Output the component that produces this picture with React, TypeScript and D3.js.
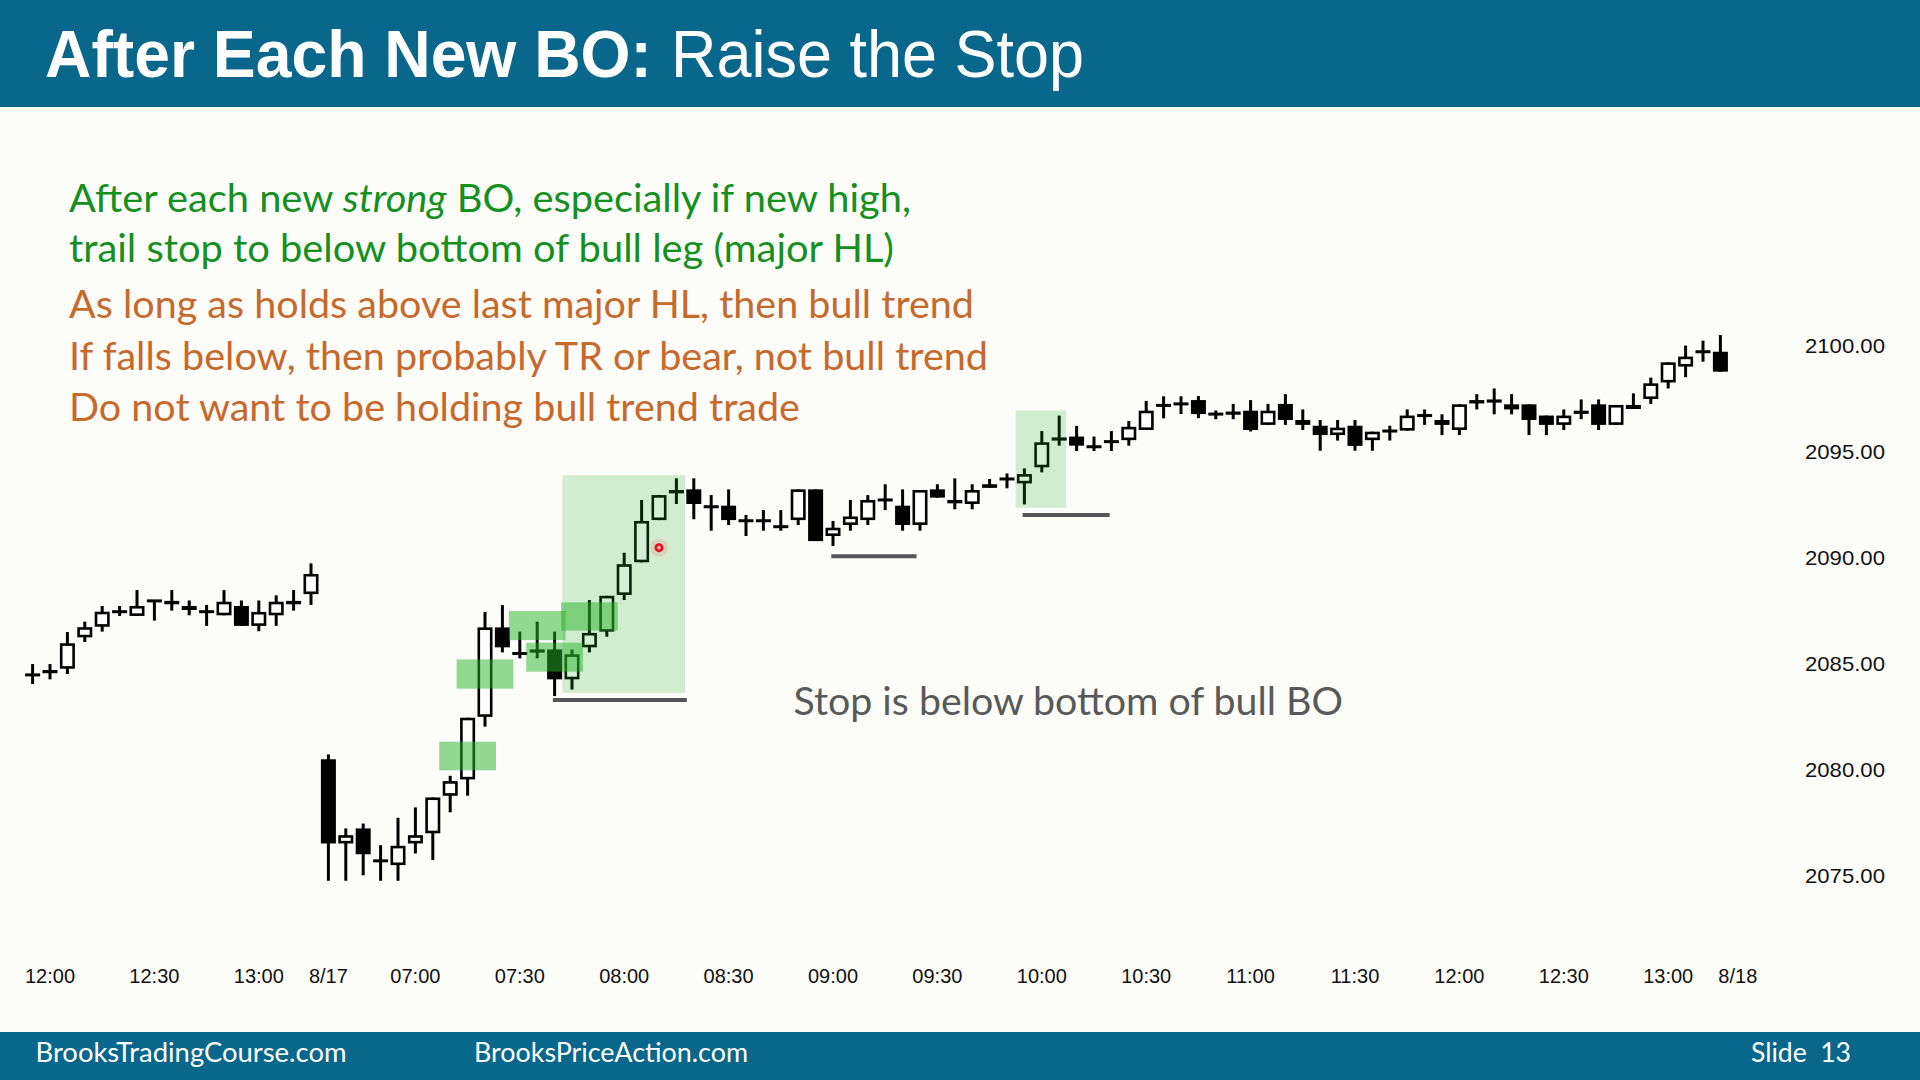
import React from 'react';
import * as d3 from 'd3';

// ---- OHLC of 5-minute bars (index 0 = 11:55 of prior day, index 17 = 06:35 of 8/17) ----
const open = [
  2084.48, 2084.56, 2084.77, 2086.25, 2086.75, 2087.46, 2087.26, 2087.97, 2087.97, 2087.73,
  2087.46, 2087.29, 2087.73, 2086.79, 2087.29, 2087.81, 2088.29,
  2080.50, 2076.53, 2077.24, 2075.71, 2075.51, 2076.53, 2077.01, 2078.78, 2079.55,
  2082.50, 2086.72, 2085.49, 2085.53, 2085.68, 2084.27, 2085.78, 2086.52, 2088.25, 2089.79,
  2091.78, 2093.04, 2093.23, 2092.41, 2092.46, 2091.75, 2091.75, 2091.47, 2091.78, 2093.23,
  2091.03, 2091.55, 2091.78, 2092.73, 2092.46, 2091.55, 2093.23, 2092.73, 2092.54, 2093.30,
  2093.72, 2093.51, 2094.27, 2095.53, 2095.72, 2095.24, 2095.48, 2095.55, 2096.03, 2097.26,
  2097.26, 2097.44, 2096.78, 2096.78, 2096.94, 2096.27, 2097.26, 2096.50, 2096.23, 2095.79,
  2096.23, 2095.55, 2095.98, 2096.00, 2096.71, 2096.50, 2096.03, 2097.28, 2097.47, 2097.24,
  2097.24, 2096.71, 2096.27, 2096.81, 2097.24, 2096.27, 2097.02, 2097.49, 2098.27, 2099.02,
  2099.72, 2099.72,
];
const high = [
  2084.99, 2084.99, 2086.50, 2086.99, 2087.73, 2087.73, 2088.48, 2087.97, 2088.48, 2087.99,
  2087.78, 2088.48, 2087.99, 2087.99, 2088.23, 2088.48, 2089.74,
  2080.73, 2077.24, 2077.47, 2076.45, 2077.74, 2078.23, 2078.70, 2079.72, 2082.46,
  2087.45, 2087.77, 2086.52, 2086.99, 2086.52, 2085.68, 2088.01, 2088.21, 2090.24, 2092.73,
  2092.96, 2093.75, 2093.75, 2092.96, 2093.23, 2092.02, 2092.25, 2092.25, 2093.23, 2093.23,
  2091.74, 2092.73, 2092.96, 2093.47, 2093.23, 2093.20, 2093.47, 2093.75, 2093.47, 2093.72,
  2093.98, 2094.22, 2095.98, 2096.71, 2096.22, 2095.72, 2095.98, 2096.45, 2097.40, 2097.62,
  2097.62, 2097.63, 2096.95, 2097.26, 2097.44, 2097.26, 2097.72, 2097.00, 2096.50, 2096.50,
  2096.50, 2095.95, 2096.23, 2097.00, 2097.00, 2096.77, 2097.24, 2097.72, 2097.99, 2097.72,
  2097.24, 2096.71, 2097.00, 2097.47, 2097.47, 2097.21, 2097.76, 2098.50, 2099.22, 2100.01,
  2100.24, 2100.51,
];
const low = [
  2084.05, 2084.27, 2084.52, 2086.03, 2086.52, 2087.26, 2087.26, 2087.04, 2087.51, 2087.29,
  2086.79, 2087.29, 2086.79, 2086.54, 2086.79, 2087.51, 2087.78,
  2074.77, 2074.77, 2075.03, 2074.77, 2074.77, 2076.06, 2075.75, 2078.00, 2078.78,
  2082.04, 2085.54, 2085.26, 2085.26, 2083.48, 2083.79, 2085.54, 2086.28, 2088.01, 2089.79,
  2091.78, 2092.54, 2091.82, 2091.28, 2091.55, 2091.03, 2091.28, 2091.28, 2091.55, 2090.79,
  2090.56, 2091.28, 2091.55, 2092.25, 2091.28, 2091.28, 2092.84, 2092.29, 2092.29, 2093.30,
  2093.28, 2092.52, 2094.03, 2095.29, 2095.04, 2095.04, 2095.04, 2095.29, 2096.03, 2096.58,
  2096.78, 2096.59, 2096.54, 2096.54, 2095.96, 2096.27, 2096.27, 2096.03, 2095.05, 2095.53,
  2095.05, 2095.05, 2095.53, 2096.00, 2096.27, 2095.79, 2095.79, 2097.00, 2096.77, 2096.77,
  2095.79, 2095.79, 2096.03, 2096.54, 2096.03, 2096.27, 2097.02, 2097.26, 2097.99, 2098.52,
  2099.25, 2098.78,
];
const close = [
  2084.48, 2084.71, 2085.97, 2086.73, 2087.46, 2087.46, 2087.73, 2087.97, 2087.81, 2087.54,
  2087.46, 2087.93, 2086.79, 2087.45, 2087.93, 2087.97, 2089.24,
  2076.53, 2076.92, 2076.02, 2075.71, 2076.42, 2076.92, 2078.70, 2079.47, 2082.46,
  2086.72, 2085.78, 2085.49, 2085.68, 2084.27, 2085.45, 2086.46, 2088.21, 2089.70, 2091.74,
  2092.96, 2093.20, 2092.54, 2092.41, 2091.78, 2091.75, 2091.75, 2091.47, 2093.23, 2090.79,
  2091.42, 2091.95, 2092.73, 2092.73, 2091.55, 2093.20, 2092.84, 2092.57, 2093.20, 2093.47,
  2093.72, 2093.95, 2095.45, 2095.68, 2095.29, 2095.24, 2095.48, 2096.18, 2096.94, 2097.13,
  2097.26, 2096.78, 2096.78, 2096.90, 2096.03, 2096.94, 2096.50, 2096.27, 2095.79, 2096.14,
  2095.28, 2095.95, 2095.98, 2096.71, 2096.71, 2096.27, 2097.24, 2097.44, 2097.32, 2097.00,
  2096.50, 2096.27, 2096.71, 2096.94, 2096.27, 2097.21, 2097.21, 2098.23, 2099.22, 2099.49,
  2099.72, 2098.78,
];

// ---- axes ----
const xTickIndex = [1, 7, 13, 17, 22, 28, 34, 40, 46, 52, 58, 64, 70, 76, 82, 88, 94, 98];
const xTickLabels = ['12:00', '12:30', '13:00', '8/17', '07:00', '07:30', '08:00', '08:30', '09:00',
  '09:30', '10:00', '10:30', '11:00', '11:30', '12:00', '12:30', '13:00', '8/18'];
const yTicks = [2100, 2095, 2090, 2085, 2080, 2075];

// ---- annotations (bar index / price) ----
const boxCenter = [25, 26, 29, 30, 32];
const boxLow = [2079.98, 2083.83, 2086.12, 2084.63, 2086.57];
const boxHigh = [2081.33, 2085.21, 2087.49, 2086.00, 2087.90];
const zoneFrom = [30.45, 56.5];
const zoneTo = [37.5, 59.4];
const zoneLow = [2083.63, 2092.36];
const zoneHigh = [2093.89, 2096.95];
const stopFrom = [29.9, 45.9, 56.9];
const stopTo = [37.6, 50.8, 61.9];
const stopPrice = [2083.30, 2090.08, 2092.02];
const markerIndex = 36;
const markerPrice = 2090.48;

const greenLine1 = ['After each new ', 'strong', ' BO, especially if new high,'];
const greenLine2 = 'trail stop to below bottom of bull leg (major HL)';
const orangeLines = [
  'As long as holds above last major HL, then bull trend',
  'If falls below, then probably TR or bear, not bull trend',
  'Do not want to be holding bull trend trade',
];

export default function App() {
  const W = 1920, H = 1080;
  const x = d3.scaleLinear().domain([0, 97]).range([32.6, 32.6 + 17.4 * 97]);
  const y = d3.scaleLinear().domain([2075, 2100]).range([875.9, 345.8]);
  const bw = 15, sw = 2.6;
  const half = 1.63;
  const teal = '#08678a';
  const body = 'Lato, "Open Sans", sans-serif';
  const arial = '"Liberation Sans", Arial, sans-serif';

  return (
    <svg width={W} height={H} viewBox={`0 0 ${W} ${H}`}
      style={{ position: 'absolute', left: 0, top: 0, display: 'block' }}>
      <rect x={0} y={0} width={W} height={H} fill="#fcfcf9" />
      {/* title bar */}
      <rect x={0} y={0} width={W} height={107} fill={teal} />
      <text x={45} y={77} fontFamily={arial} fontWeight="bold" fontSize={66} fill="#fff"
        textLength={607} lengthAdjust="spacingAndGlyphs">After Each New BO:</text>
      <text x={671} y={77} fontFamily={arial} fontSize={66} fill="#fff"
        textLength={413} lengthAdjust="spacingAndGlyphs">Raise the Stop</text>

      {/* text block */}
      <text x={69} y={212} fontFamily={body} fontSize={38} fill="#14901e"
        textLength={842} lengthAdjust="spacingAndGlyphs">
        <tspan>{greenLine1[0]}</tspan>
        <tspan fontStyle="italic">{greenLine1[1]}</tspan>
        <tspan>{greenLine1[2]}</tspan>
      </text>
      <text x={69} y={262} fontFamily={body} fontSize={38} fill="#14901e"
        textLength={825} lengthAdjust="spacingAndGlyphs">{greenLine2}</text>
      {orangeLines.map((t, i) => (
        <text key={i} x={69} y={318 + i * 51.5} fontFamily={body} fontSize={38} fill="#c8692c"
          textLength={[905, 919, 731][i]} lengthAdjust="spacingAndGlyphs">{t}</text>
      ))}

      {/* candles */}
      {open.map((o, i) => {
        const c = close[i];
        const cx = x(i);
        const top = y(Math.max(o, c));
        const bot = y(Math.min(o, c));
        const doji = Math.abs(c - o) < 0.05;
        const bull = c > o;
        return (
          <g key={i}>
            <line x1={cx} x2={cx} y1={y(high[i])} y2={y(low[i])} stroke="#000" strokeWidth={3} />
            {doji ? (
              <line x1={cx - bw / 2} x2={cx + bw / 2} y1={top} y2={top} stroke="#000" strokeWidth={3} />
            ) : bull ? (
              <rect x={cx - bw / 2 + sw / 2} y={top + sw / 2} width={bw - sw}
                height={Math.max(0.6, bot - top - sw)} fill="#fff" stroke="#000" strokeWidth={sw} />
            ) : (
              <rect x={cx - bw / 2} y={top} width={bw} height={Math.max(3, bot - top)} fill="#000" />
            )}
          </g>
        );
      })}

      {/* green highlight zones */}
      {zoneFrom.map((f, i) => (
        <rect key={'z' + i} x={x(f)} y={y(zoneHigh[i])} width={x(zoneTo[i]) - x(f)}
          height={y(zoneLow[i]) - y(zoneHigh[i])} fill="rgb(40,180,40)" fillOpacity={0.2} />
      ))}
      {boxCenter.map((c, i) => (
        <rect key={'b' + i} x={x(c - half)} y={y(boxHigh[i])} width={x(c + half) - x(c - half)}
          height={y(boxLow[i]) - y(boxHigh[i])} fill="rgb(40,180,40)" fillOpacity={0.5} />
      ))}

      {/* stop lines */}
      {stopFrom.map((f, i) => (
        <line key={'s' + i} x1={x(f)} x2={x(stopTo[i])} y1={y(stopPrice[i])} y2={y(stopPrice[i])}
          stroke="#555" strokeWidth={4} />
      ))}

      {/* pointer dot */}
      <circle cx={x(markerIndex)} cy={y(markerPrice)} r={9} fill="rgb(255,60,60)" fillOpacity={0.15} />
      <circle cx={x(markerIndex)} cy={y(markerPrice)} r={4.5} fill="#e0141e" />
      <circle cx={x(markerIndex)} cy={y(markerPrice)} r={1.8} fill="#ffb4b4" />

      <text x={793.5} y={715} fontFamily={body} fontSize={38} fill="#595959"
        textLength={549.5} lengthAdjust="spacingAndGlyphs">Stop is below bottom of bull BO</text>

      {/* y axis labels */}
      {yTicks.map((v) => (
        <text key={v} x={1805} y={y(v)} dy="0.36em" fontFamily={arial} fontSize={21} fill="#111"
          textLength={80} lengthAdjust="spacingAndGlyphs">{v.toFixed(2)}</text>
      ))}
      {/* x axis labels */}
      {xTickIndex.map((idx, i) => (
        <text key={i} x={x(idx)} y={983} textAnchor="middle" fontFamily={arial} fontSize={20} fill="#111">
          {xTickLabels[i]}
        </text>
      ))}

      {/* footer */}
      <rect x={0} y={1032} width={W} height={48} fill={teal} />
      <text x={35.5} y={1062} fontFamily={body} fontSize={26} fill="#fff"
        textLength={311} lengthAdjust="spacingAndGlyphs">BrooksTradingCourse.com</text>
      <text x={474} y={1062} fontFamily={body} fontSize={26} fill="#fff"
        textLength={274} lengthAdjust="spacingAndGlyphs">BrooksPriceAction.com</text>
      <text x={1751} y={1062} fontFamily={body} fontSize={26} fill="#fff" xmlSpace="preserve"
        textLength={100} lengthAdjust="spacingAndGlyphs">Slide  13</text>
    </svg>
  );
}
